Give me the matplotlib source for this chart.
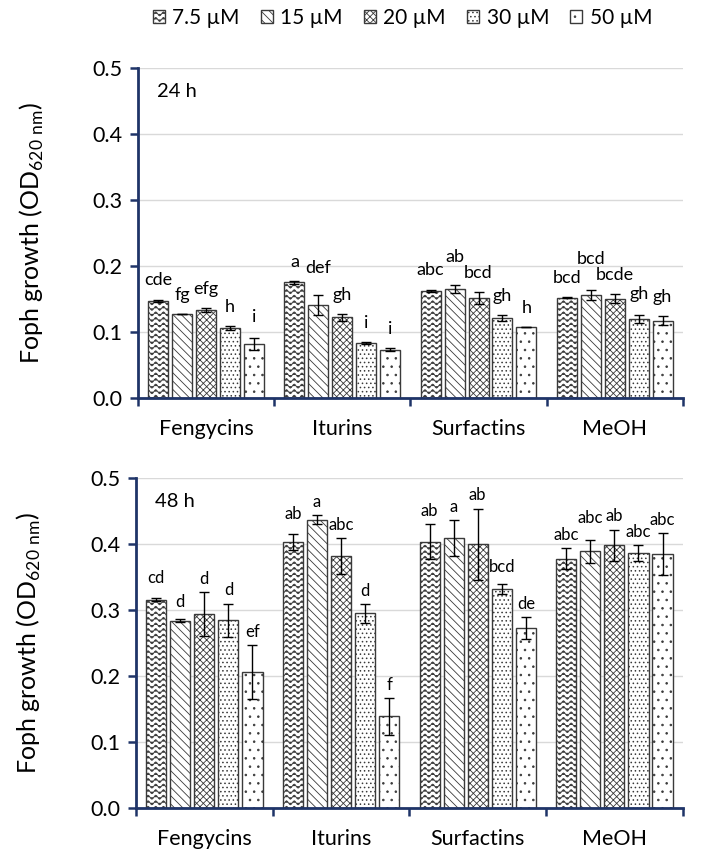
import numpy as np
import matplotlib
matplotlib.use("Agg")
import matplotlib.pyplot as plt
import matplotlib.hatch as mhatch
from matplotlib.path import Path

plt.rcParams['font.family'] = ['Lato', 'DejaVu Sans']
plt.rcParams['hatch.linewidth'] = 0.6
plt.rcParams['hatch.color'] = '#3a3a3a'

categories = ["Fengycins", "Iturins", "Surfactins", "MeOH"]
concs = ["7.5 \u00b5M", "15 \u00b5M", "20 \u00b5M", "30 \u00b5M", "50 \u00b5M"]

# 24 h, one row per category, columns = 7.5, 15, 20, 30, 50 uM
od_24 = [[0.147, 0.127, 0.133, 0.106, 0.081],
         [0.175, 0.141, 0.122, 0.083, 0.073],
         [0.162, 0.165, 0.151, 0.121, 0.107],
         [0.152, 0.156, 0.150, 0.119, 0.117]]
err_24 = [[0.002, 0.000, 0.003, 0.003, 0.009],
          [0.002, 0.015, 0.005, 0.001, 0.002],
          [0.002, 0.006, 0.009, 0.004, 0.000],
          [0.001, 0.007, 0.007, 0.006, 0.007]]
letters_24 = [["cde", "fg", "efg", "h", "i"],
              ["a", "def", "gh", "i", "i"],
              ["abc", "ab", "bcd", "gh", "h"],
              ["bcd", "bcd", "bcde", "gh", "gh"]]

# 48 h
od_48 = [[0.316, 0.284, 0.294, 0.285, 0.206],
         [0.403, 0.437, 0.382, 0.295, 0.139],
         [0.404, 0.409, 0.400, 0.332, 0.273],
         [0.378, 0.389, 0.398, 0.387, 0.385]]
err_48 = [[0.002, 0.002, 0.033, 0.025, 0.041],
          [0.012, 0.007, 0.027, 0.014, 0.028],
          [0.027, 0.027, 0.054, 0.008, 0.017],
          [0.016, 0.017, 0.024, 0.012, 0.032]]
letters_48 = [["cd", "d", "d", "d", "ef"],
              ["ab", "a", "abc", "d", "f"],
              ["ab", "a", "ab", "bcd", "de"],
              ["abc", "abc", "ab", "abc", "abc"]]

# extra lift of some letters so neighbours do not collide
lift_24 = [[0, 0, 0, 0, 0.004],
           [0, 0.012, 0, 0, 0],
           [0, 0.013, 0, 0, 0],
           [0, 0.018, 0, 0.004, 0]]
lift_48 = [[0.010, 0.006, 0, 0, 0],
           [0.011, 0, 0, 0, 0],
           [0, 0, 0, 0.006, 0],
           [0, 0.013, 0, 0, 0]]


class WaveHatch(mhatch.HatchPatternBase):
    # 'O' is re-used as the wavy fill of the 7.5 uM bars
    def __init__(self, hatch, density):
        self.num_rows = hatch.count('O') * density
        self.waves = 13
        self.pts = self.waves * 8 + 1
        self.num_vertices = self.num_rows * self.pts

    def set_vertices_and_codes(self, vertices, codes):
        t = np.linspace(0, 1, self.pts)
        amp = 0.36 / max(self.num_rows, 1)
        for i in range(self.num_rows):
            seg = slice(i * self.pts, (i + 1) * self.pts)
            vertices[seg, 0] = t
            vertices[seg, 1] = (i + 0.5) / self.num_rows + amp * np.sin(2 * np.pi * self.waves * t)
            codes[seg] = Path.LINETO
            codes[i * self.pts] = Path.MOVETO


mhatch._hatch_types[mhatch._hatch_types.index(mhatch.LargeCircles)] = WaveHatch

hatches = ['OOO', '\\\\\\\\', 'xxxxx', '....', '..']
edge = '#3a3a3a'
navy = '#1f3468'
pitch = 0.176
width = 0.147


def draw_panel(ax, od, err, letters, lift, tag, letter_size, base):
    for j in range(5):
        x = np.arange(4) + 0.5 + (j - 2) * pitch
        v = [od[c][j] for c in range(4)]
        e = [err[c][j] for c in range(4)]
        ax.bar(x, v, width, color='white', edgecolor=edge, linewidth=1,
               hatch=hatches[j], label=concs[j], zorder=2)
        ax.errorbar(x, v, yerr=e, fmt='none', ecolor='black', elinewidth=1,
                    capsize=3.5, capthick=1, zorder=3)
        for c in range(4):
            ax.text(x[c], v[c] + e[c] + base + lift[c][j], letters[c][j],
                    ha='center', va='center', fontsize=letter_size)

    ax.set_xlim(0, 4)
    ax.set_ylim(0, 0.5)
    ax.set_yticks(np.arange(0, 0.51, 0.1))
    ax.set_yticklabels([f"{t:.1f}" for t in np.arange(0, 0.51, 0.1)], fontsize=15.5)
    ax.set_xticks(range(5))
    ax.set_xticklabels([])
    ax.set_xticks(np.arange(4) + 0.5, minor=True)
    ax.set_xticklabels(categories, minor=True, fontsize=15.5)
    ax.tick_params(axis='x', which='minor', length=0, pad=15)
    ax.tick_params(axis='x', which='major', direction='out', length=6, width=1.8, color=navy)
    ax.tick_params(axis='y', direction='out', length=6, width=1.8, color=navy, pad=5)
    for s in ['top', 'right']:
        ax.spines[s].set_visible(False)
    for s in ['left', 'bottom']:
        ax.spines[s].set_color(navy)
        ax.spines[s].set_linewidth(2)
    ax.yaxis.grid(True, color='#d9d9d9', linewidth=1)
    ax.set_axisbelow(True)
    ax.set_ylabel(r"Foph growth (OD$_{\mathregular{620\ nm}}$)", fontsize=18)
    ax.yaxis.set_label_coords(-0.17, 0.5)
    ax.text(0.035, 0.93, tag, transform=ax.transAxes, fontsize=14.5, va='center')


fig = plt.figure(figsize=(7.01, 8.5), dpi=100)
ax_top = fig.add_axes([0.197, 0.532, 0.777, 0.388])
ax_bot = fig.add_axes([0.194, 0.0494, 0.780, 0.388])

draw_panel(ax_top, od_24, err_24, letters_24, lift_24, "24 h", 13, 0.029)
draw_panel(ax_bot, od_48, err_48, letters_48, lift_48, "48 h", 12, 0.020)

handles, labels = ax_top.get_legend_handles_labels()
fig.legend(handles, labels, loc='center', bbox_to_anchor=(0.574, 0.979), ncol=5,
           frameon=False, fontsize=15, handlelength=0.6, handleheight=0.6,
           handletextpad=0.35, columnspacing=1.0)

fig.savefig("out.png", dpi=100)
